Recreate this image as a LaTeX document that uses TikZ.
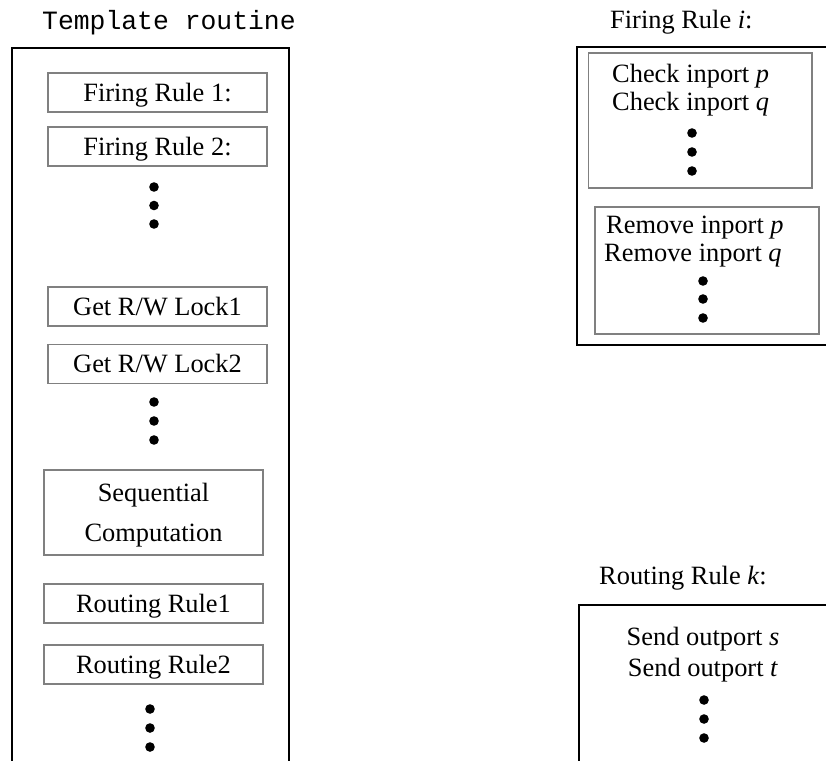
\documentclass[tikz,border=0pt]{standalone}
\usepackage{fontspec}
\setmainfont{Liberation Serif}
\setmonofont{Liberation Mono}
\begin{document}
\begin{tikzpicture}[x=1pt,y=-1pt,
  every node/.style={inner sep=0pt, font=\fontsize{26.4}{30}\selectfont},
  frame/.style={draw=black, line width=1.6pt},
  gframe/.style={draw=black!50, line width=1.8pt},
  gbox/.style={gframe, rectangle, text height=17.5pt, text depth=0pt,
    minimum width=219pt, minimum height=39pt},
  txt/.style={anchor=base west},
  ctxt/.style={anchor=base},
  dotfill/.style={fill=black}]
\useasboundingbox (0,0) rectangle (826,760);
\clip (0,0) rectangle (826,760);

% ---------- template routine ----------
\node[txt, font=\fontsize{26.4}{30}\selectfont\ttfamily] (tpl) at (42,30) {Template routine};
\draw[frame] (12,48) rectangle (289,800);

\node[gbox] (fr1) at (157.5,92.5) {Firing Rule 1:};
\node[gbox] (fr2) at (157.5,146.5) {Firing Rule 2:};
\foreach \yy in {187,205.5,224} \fill[dotfill] (154,\yy) circle (4.8);

\node[gbox] (lk1) at (157.5,306.5) {Get R/W Lock1};
\node[gbox] (lk2) at (157.5,364) {Get R/W Lock2};
\foreach \yy in {402,421,440} \fill[dotfill] (154,\yy) circle (4.8);

\node[gbox, minimum height=85pt] (seq) at (153.5,512.5) {};
\node[ctxt] (seq1) at (153.5,501) {Sequential};
\node[ctxt] (seq2) at (153.5,541) {Computation};

\node[gbox] (rr1) at (153.5,603.5) {Routing Rule1};
\node[gbox] (rr2) at (153.5,664.5) {Routing Rule2};
\foreach \yy in {709,728,747} \fill[dotfill] (150,\yy) circle (4.8);

% ---------- firing rule i ----------
\node[txt] (fri) at (610,29) {Firing Rule \textit{i}:};
\draw[frame] (577,47) rectangle (860,345);

\node[gframe, minimum width=223.5pt, minimum height=135pt] (chk) at (700.25,120.5) {};
\node[txt] (chkp) at (612,82) {Check inport \textit{p}};
\node[txt] (chkq) at (612,110) {Check inport \textit{q}};
\foreach \yy in {133,152,171} \fill[dotfill] (692,\yy) circle (4.8);

\node[gframe, minimum width=224pt, minimum height=127pt] (rem) at (707,270.5) {};
\node[txt] (remp) at (606,233) {Remove inport \textit{p}};
\node[txt] (remq) at (604,261) {Remove inport \textit{q}};
\foreach \yy in {281,299,318} \fill[dotfill] (703,\yy) circle (4.8);

% ---------- routing rule k ----------
\node[txt] (rrk) at (599,584) {Routing Rule \textit{k}:};
\draw[frame] (579,605) rectangle (860,800);
\node[ctxt] (snds) at (703,645) {Send outport \textit{s}};
\node[ctxt] (sndt) at (703,676) {Send outport \textit{t}};
\foreach \yy in {700,719,738} \fill[dotfill] (704,\yy) circle (4.8);
\end{tikzpicture}
\end{document}
